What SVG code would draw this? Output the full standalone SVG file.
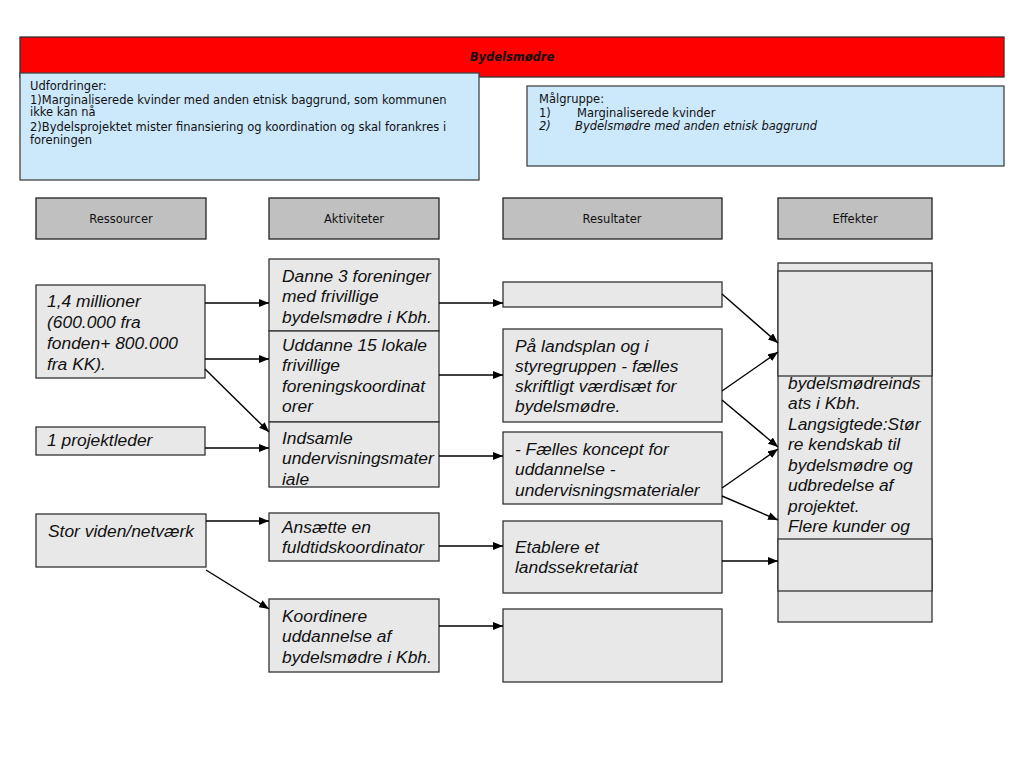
<svg xmlns="http://www.w3.org/2000/svg" width="1024" height="768" viewBox="0 0 1024 768">
<style>
.box{fill:#e8e8e8;stroke:#333;stroke-width:1.3}
.hdr{fill:#c0c0c0;stroke:#222;stroke-width:1.3}
.blue{fill:#cce8fb;stroke:#444;stroke-width:1.3}
.v{font-family:"DejaVu Sans",Verdana,sans-serif;font-size:11.5px;fill:#111}
.hc{text-anchor:middle}
.t{font-family:"Liberation Sans",Arial,sans-serif;font-size:17.4px;font-style:italic;fill:#111}
.c{stroke:#000;stroke-width:1.4;fill:none;marker-end:url(#ah)}
</style>
<defs>
<marker id="ah" viewBox="0 0 10 8" refX="10" refY="4" markerWidth="10" markerHeight="8" markerUnits="userSpaceOnUse" orient="auto">
<path d="M0,0 L10,4 L0,8 z" fill="#000"/>
</marker>
</defs>
<rect width="1024" height="768" fill="#fff"/>

<g id="title">
<rect x="20" y="37" width="984" height="40" fill="#ff0000" stroke="#333" stroke-width="1.3"/>
<text x="512" y="61" class="v hc" font-size="11px" font-weight="bold" font-style="italic">Bydelsmødre</text>
</g>

<g id="udfordringer">
<rect x="20" y="73" width="459" height="107" class="blue"/>
<text class="v"><tspan x="30" y="90">Udfordringer:</tspan><tspan x="30" y="104">1)Marginaliserede kvinder med anden etnisk baggrund, som kommunen</tspan><tspan x="30" y="116">ikke kan nå</tspan><tspan x="30" y="131">2)Bydelsprojektet mister finansiering og koordination og skal forankres i</tspan><tspan x="30" y="144">foreningen</tspan></text>
</g>

<g id="maalgruppe">
<rect x="527" y="86" width="477" height="80" class="blue"/>
<text class="v"><tspan x="539" y="103">Målgruppe:</tspan><tspan x="539" y="117">1)</tspan><tspan x="577" y="117">Marginaliserede kvinder</tspan></text>
<text class="v" font-style="italic"><tspan x="539" y="130">2)</tspan><tspan x="575" y="130">Bydelsmødre med anden etnisk baggrund</tspan></text>
</g>

<g id="h-ressourcer"><rect x="36" y="198" width="170" height="41" class="hdr"/><text x="121" y="223" class="v hc">Ressourcer</text></g>
<g id="h-aktiviteter"><rect x="269" y="198" width="170" height="41" class="hdr"/><text x="354" y="223" class="v hc">Aktiviteter</text></g>
<g id="h-resultater"><rect x="503" y="198" width="219" height="41" class="hdr"/><text x="612" y="223" class="v hc">Resultater</text></g>
<g id="h-effekter"><rect x="778" y="198" width="154" height="41" class="hdr"/><text x="855" y="223" class="v hc">Effekter</text></g>

<g id="r1"><rect x="36" y="285" width="169" height="93" class="box"/>
<text class="t"><tspan x="47" y="307">1,4 millioner</tspan><tspan x="47" y="328">(600.000 fra</tspan><tspan x="47" y="349">fonden+ 800.000</tspan><tspan x="47" y="370">fra KK).</tspan></text></g>
<g id="r2"><rect x="36" y="427" width="169" height="28" class="box"/>
<text class="t" x="47" y="446">1 projektleder</text></g>
<g id="r3"><rect x="36" y="514" width="170" height="53" class="box"/>
<text class="t" x="48" y="537">Stor viden/netværk</text></g>

<g id="a1"><rect x="269" y="259" width="170" height="72" class="box"/>
<text class="t"><tspan x="282" y="282">Danne 3 foreninger</tspan><tspan x="282" y="302">med frivillige</tspan><tspan x="282" y="323">bydelsmødre i Kbh.</tspan></text></g>
<g id="a2"><rect x="269" y="331" width="170" height="91" class="box"/>
<text class="t"><tspan x="282" y="351">Uddanne 15 lokale</tspan><tspan x="282" y="371">frivillige</tspan><tspan x="282" y="392">foreningskoordinat</tspan><tspan x="282" y="412">orer</tspan></text></g>
<g id="a3"><rect x="269" y="422" width="170" height="65" class="box"/>
<text class="t"><tspan x="282" y="444">Indsamle</tspan><tspan x="282" y="464">undervisningsmater</tspan><tspan x="282" y="485">iale</tspan></text></g>
<g id="a4"><rect x="269" y="513" width="170" height="48" class="box"/>
<text class="t"><tspan x="282" y="533">Ansætte en</tspan><tspan x="282" y="553">fuldtidskoordinator</tspan></text></g>
<g id="a5"><rect x="269" y="599" width="170" height="73" class="box"/>
<text class="t"><tspan x="282" y="622">Koordinere</tspan><tspan x="282" y="642">uddannelse af</tspan><tspan x="282" y="663">bydelsmødre i Kbh.</tspan></text></g>

<g id="s1"><rect x="503" y="282" width="219" height="25" class="box"/></g>
<g id="s2"><rect x="503" y="329" width="219" height="93" class="box"/>
<text class="t"><tspan x="515" y="352">På landsplan og i</tspan><tspan x="515" y="372">styregruppen - fælles</tspan><tspan x="515" y="392">skriftligt værdisæt for</tspan><tspan x="515" y="412">bydelsmødre.</tspan></text></g>
<g id="s3"><rect x="503" y="432" width="219" height="72" class="box"/>
<text class="t"><tspan x="515" y="455">- Fælles koncept for</tspan><tspan x="515" y="475">uddannelse -</tspan><tspan x="515" y="496">undervisningsmaterialer</tspan></text></g>
<g id="s4"><rect x="503" y="521" width="219" height="72" class="box"/>
<text class="t"><tspan x="515" y="553">Etablere et</tspan><tspan x="515" y="573">landssekretariat</tspan></text></g>
<g id="s5"><rect x="503" y="609" width="219" height="73" class="box"/></g>

<g id="effekter">
<rect x="778" y="263" width="154" height="359" class="box"/>
<text class="t"><tspan x="788" y="389">bydelsmødreinds</tspan><tspan x="788" y="409">ats i Kbh.</tspan><tspan x="788" y="430">Langsigtede:Stør</tspan><tspan x="788" y="450">re kendskab til</tspan><tspan x="788" y="471">bydelsmødre og</tspan><tspan x="788" y="491">udbredelse af</tspan><tspan x="788" y="512">projektet.</tspan><tspan x="788" y="532">Flere kunder og</tspan></text>
<rect x="778" y="271" width="154" height="105" class="box"/>
<rect x="778" y="539" width="154" height="52" class="box"/>
</g>

<g id="connectors">
<path class="c" d="M205,303 L269,303"/>
<path class="c" d="M205,359 L269,359"/>
<path class="c" d="M205,369 L269,432"/>
<path class="c" d="M205,448 L269,448"/>
<path class="c" d="M206,521 L269,521"/>
<path class="c" d="M206,570 L269,609"/>
<path class="c" d="M439,303 L503,303"/>
<path class="c" d="M439,375 L503,375"/>
<path class="c" d="M439,456 L503,456"/>
<path class="c" d="M439,546 L503,546"/>
<path class="c" d="M439,626 L503,626"/>
<path class="c" d="M722,294 L778,343"/>
<path class="c" d="M722,391 L778,352"/>
<path class="c" d="M722,400 L778,447"/>
<path class="c" d="M722,488 L778,449"/>
<path class="c" d="M722,496 L778,520"/>
<path class="c" d="M722,561 L778,561"/>
</g>
</svg>
